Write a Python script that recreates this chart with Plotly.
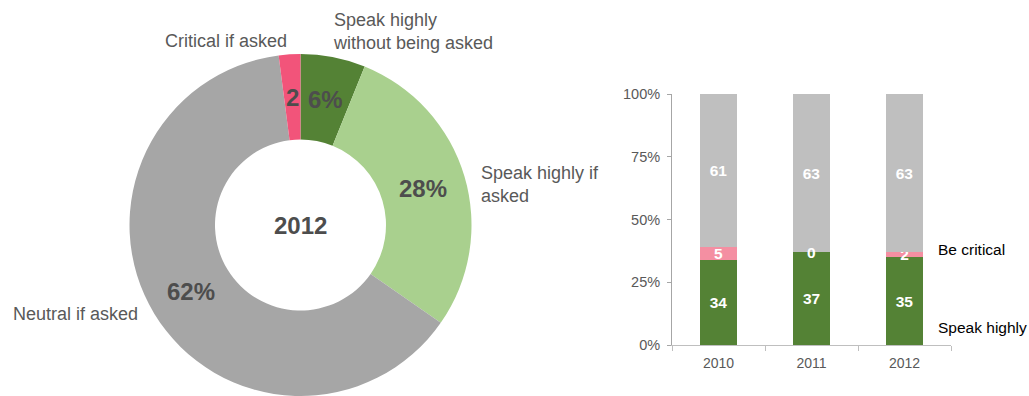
import math
import plotly.graph_objects as go

# ---- Donut: 2012 breakdown ----
pie_labels = ["Speak highly<br>without being asked", "Speak highly if<br>asked",
              "Neutral if asked", "Critical if asked"]
pie_values = [6, 28, 62, 2]
pie_suffix = ["%", "%", "%", ""]
pie_colors = ["#548235", "#A9D08E", "#A6A6A6", "#F2547A"]
pie_center_label = "2012"

# ---- Stacked bars: trend by year ----
years = ["2010", "2011", "2012"]
speak_highly = [34, 37, 35]
be_critical = [5, 0, 2]
neutral = [61, 63, 63]
y_ticks = [0, 25, 50, 75, 100]

W, H = 1029, 396
TEXT = "#595959"
FONT = "Liberation Sans, Arial, sans-serif"

# donut geometry (pixels from top-left); the ring touches the bottom edge
CX, CY, R = 300.5, 225.0, 171.0
HOLE = 0.5

fig = go.Figure()

fig.add_trace(go.Pie(
    labels=[l.replace("<br>", " ") for l in pie_labels],
    values=pie_values,
    sort=False,
    direction="clockwise",
    rotation=0,
    hole=HOLE,
    marker=dict(colors=pie_colors, line=dict(width=0)),
    textinfo="none",
    domain=dict(x=[(CX - R) / W, (CX + R) / W],
                y=[max(0.0, 1 - (CY + R) / H), 1 - (CY - R) / H]),
    showlegend=False,
))

bar_specs = [
    ("Speak highly", speak_highly, "#548235"),
    ("Be critical", be_critical, "#F48FA2"),
    ("Neutral", neutral, "#BFBFBF"),
]
BAR_FONT = dict(color="white", size=15.5, family=FONT, weight="bold")
for name, vals, col in bar_specs:
    fig.add_trace(go.Bar(
        x=years, y=vals, name=name,
        marker=dict(color=col, line=dict(width=0)),
        text=[str(v) for v in vals],
        textposition="inside",
        insidetextanchor="middle",
        textangle=0,
        constraintext="none",
        textfont=BAR_FONT,
        xaxis="x", yaxis="y",
        showlegend=False,
        cliponaxis=False,
    ))

annotations = []

# zero-height segments still get their value printed at the stack boundary
base = [0] * len(years)
for name, vals, col in bar_specs:
    for i, v in enumerate(vals):
        if v == 0:
            annotations.append(dict(
                x=i, y=base[i], xref="x", yref="y",
                text=f"<b>{v}</b>", showarrow=False,
                font=BAR_FONT, xanchor="center", yanchor="middle",
            ))
        base[i] += v

# value labels on the donut ring, placed at the mid-radius of each slice
total = sum(pie_values)
cum = 0.0
r_mid = R * (1 + HOLE) / 2
for v, suf in zip(pie_values, pie_suffix):
    mid = (cum + v / 2) / total * 2 * math.pi
    cum += v
    px = CX + r_mid * math.sin(mid)
    py = CY - r_mid * math.cos(mid)
    annotations.append(dict(
        x=px / W, y=1 - py / H, xref="paper", yref="paper",
        text=f"<b>{v}{suf}</b>", showarrow=False,
        font=dict(size=24, color="#4D4D4D", family=FONT),
        xanchor="center", yanchor="middle",
    ))

annotations.append(dict(
    x=CX / W, y=1 - CY / H, xref="paper", yref="paper",
    text=f"<b>{pie_center_label}</b>", showarrow=False,
    font=dict(size=24, color="#4D4D4D", family=FONT),
    xanchor="center", yanchor="middle",
))

# category names around the donut
outside = [
    (pie_labels[0], 331, 32),
    (pie_labels[1], 479, 184),
    (pie_labels[2], 11, 314),
    (pie_labels[3], 163, 41),
]
for txt, lx, ly in outside:
    annotations.append(dict(
        x=lx / W, y=1 - ly / H, xref="paper", yref="paper",
        text=txt, showarrow=False, align="left",
        font=dict(size=18, color=TEXT, family=FONT),
        xanchor="left", yanchor="middle",
    ))

# series labels to the right of the bars
for txt, ly in [("Be critical", 250), ("Speak highly", 327)]:
    annotations.append(dict(
        x=936 / W, y=1 - ly / H, xref="paper", yref="paper",
        text=txt, showarrow=False, align="left",
        font=dict(size=15.5, color="#000000", family=FONT),
        xanchor="left", yanchor="middle",
    ))

fig.update_layout(
    width=W, height=H,
    autosize=False,
    margin=dict(l=0, r=0, t=0, b=0, pad=0, autoexpand=False),
    paper_bgcolor="white", plot_bgcolor="white",
    font=dict(family=FONT, color=TEXT),
    barmode="stack",
    bargap=0.6,
    annotations=annotations,
    xaxis=dict(
        domain=[672 / W, 951 / W],
        type="category",
        categoryorder="array", categoryarray=years,
        range=[-0.5, len(years) - 0.5],
        automargin=False,
        tickangle=0,
        showline=True, linecolor="#BFBFBF", linewidth=1,
        ticks="outside", tickson="boundaries", ticklen=5, tickcolor="#BFBFBF",
        ticklabelstandoff=5,
        tickfont=dict(size=14, color=TEXT),
        showgrid=False, zeroline=False,
    ),
    yaxis=dict(
        domain=[(H - 345) / H, (H - 94) / H],
        range=[0, 100],
        automargin=False,
        tickvals=y_ticks, ticktext=[f"{t}%" for t in y_ticks],
        showline=True, linecolor="#A6A6A6", linewidth=1,
        ticks="outside", ticklen=4, tickcolor="#A6A6A6",
        ticklabelstandoff=4,
        tickfont=dict(size=14.5, color=TEXT),
        showgrid=False, zeroline=False,
    ),
)

fig.write_html("out.html")
